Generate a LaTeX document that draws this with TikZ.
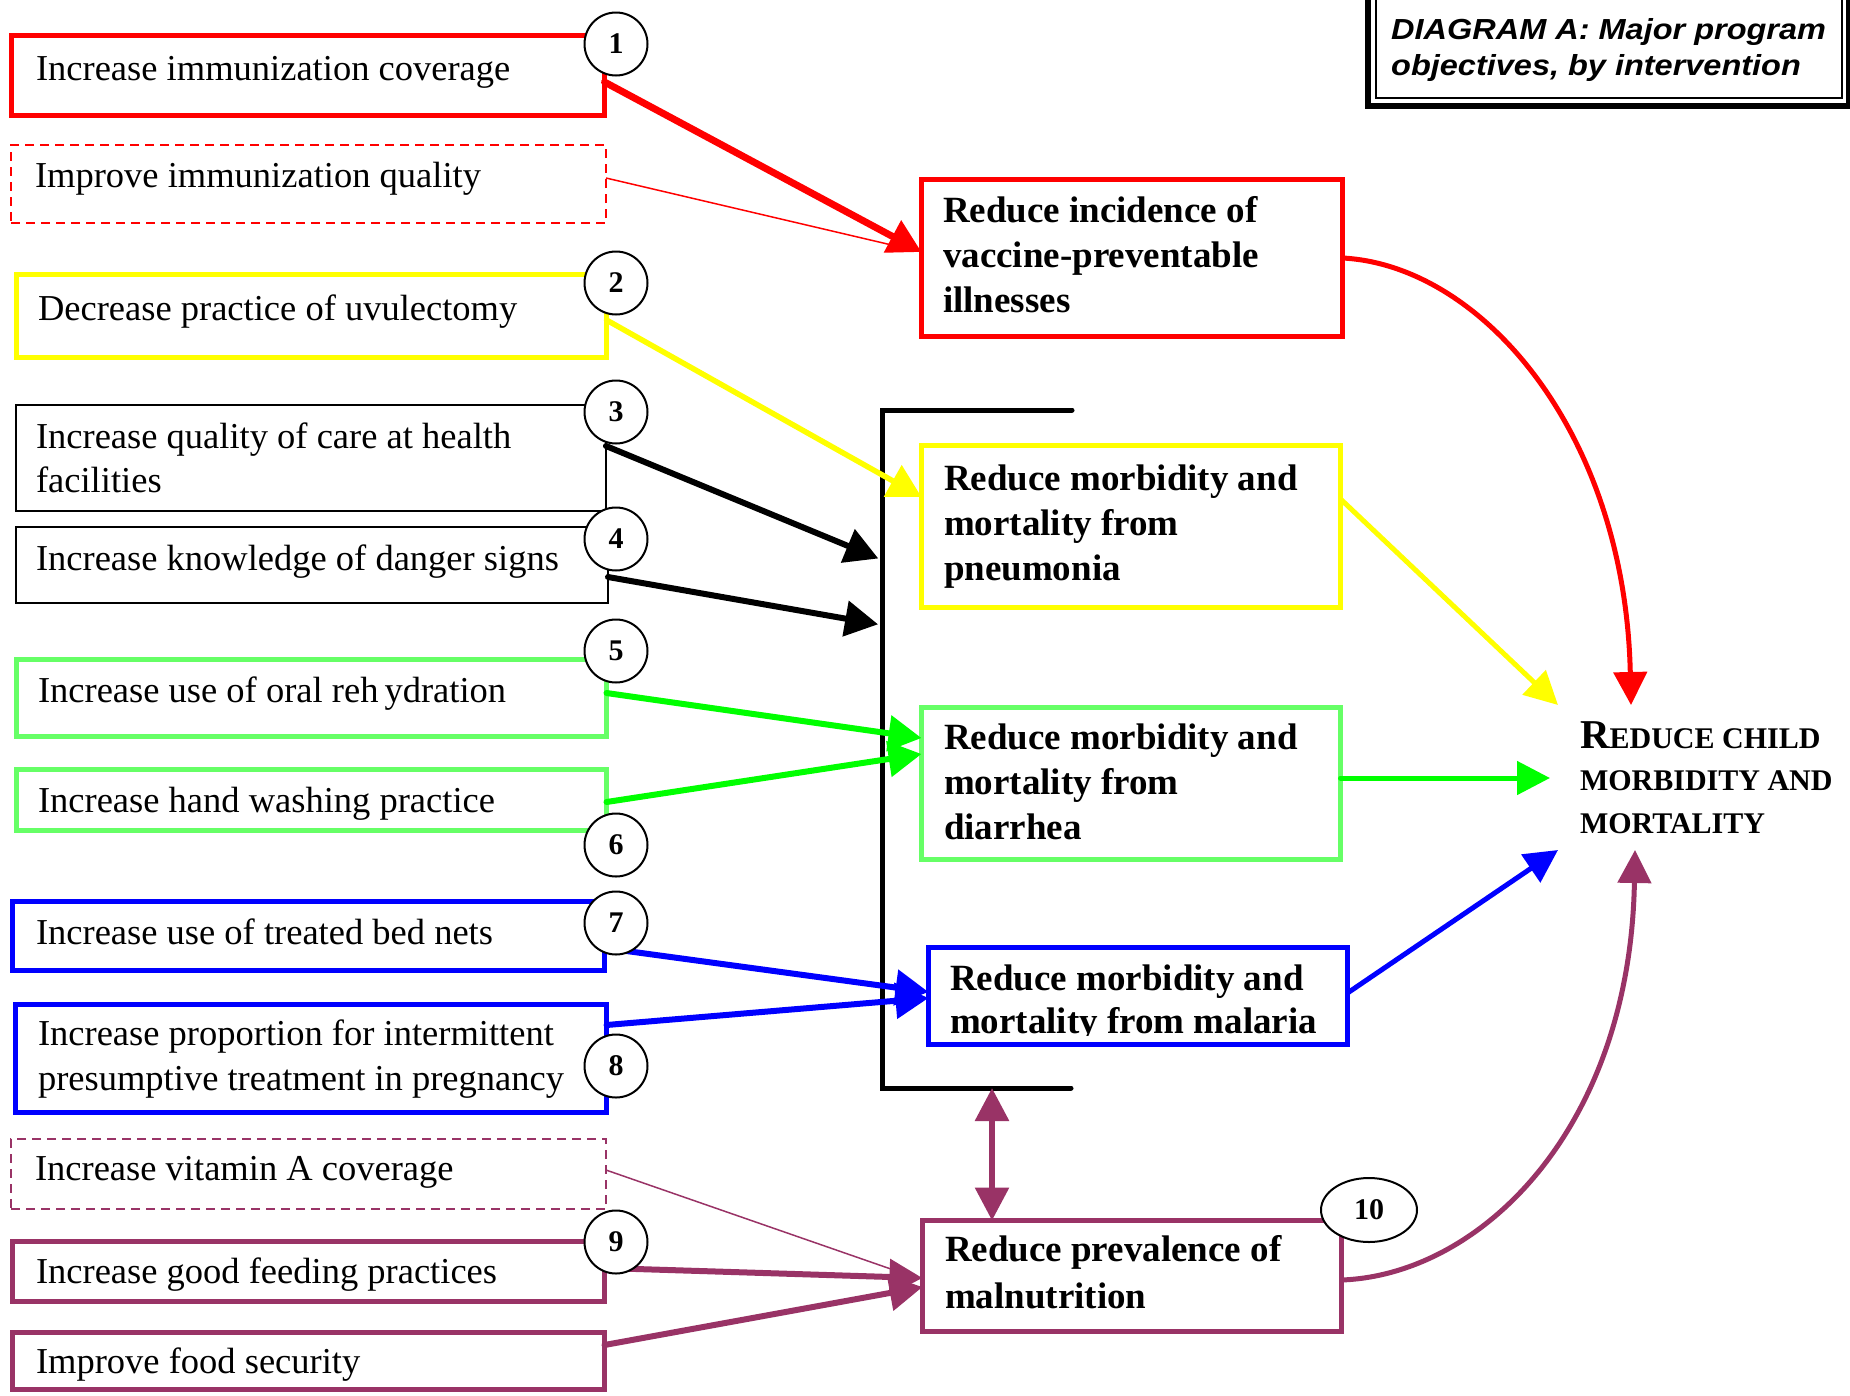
\documentclass[tikz,border=0pt]{standalone}
\usepackage{fontspec}
\setmainfont{Liberation Serif}
\newfontfamily\titlefont[FakeStretch=1.12]{Liberation Sans}
\usetikzlibrary{arrows.meta,shapes.geometric}

\definecolor{objred}{RGB}{255,0,0}
\definecolor{objyellow}{RGB}{255,255,0}
\definecolor{objgreen}{RGB}{102,255,102}
\definecolor{arrgreen}{RGB}{0,255,0}
\definecolor{objblue}{RGB}{0,0,255}
\definecolor{objplum}{RGB}{153,51,102}

\begin{document}
\begin{tikzpicture}[x=1pt,y=-1pt,line join=miter,
  box/.style={draw, rectangle, inner sep=0pt, outer sep=0pt, anchor=north west, fill=white},
  thickbox/.style={box, line width=5pt},
  thinbox/.style={box, line width=2pt},
  dashbox/.style={box, line width=2pt, dash pattern=on 9pt off 6pt},
  % multi-line labels are placed by the baseline of their last line
  lbl/.style={inner sep=0pt, outer sep=0pt, anchor=base west, align=left,
    font=\fontsize{36.5}{45}\selectfont},
  blbl/.style={lbl, font=\fontsize{37}{45}\selectfont\bfseries},
  num/.style={circle, draw, line width=2pt, fill=white, minimum size=63pt,
    inner sep=0pt, font=\fontsize{30}{30}\selectfont\bfseries},
  link/.style={line width=6pt, line cap=round, -{Triangle[length=33pt,width=35pt]}},
  golink/.style={line width=5pt, line cap=round, -{Triangle[length=33pt,width=33pt]}},
  feed/.style={line width=1.5pt, shorten >=18pt},
]
\path[use as bounding box] (0,0) rectangle (1850,1395);
\clip (0,0) rectangle (1850,1395);

% ---- title frame ----
\draw[line width=6.5pt] (1368,-30) rectangle (1849,106);
\draw[line width=2pt] (1376,-30) rectangle (1842,97.5);
\node[inner sep=0pt, anchor=base west, align=left,
  font=\titlefont\bfseries\itshape\fontsize{29}{36}\selectfont] (title) at (1391,75)
  {DIAGRAM A: Major program\\objectives, by intervention};

% ---- interventions (left column) ----
\node[thickbox, draw=objred, minimum width=593pt, minimum height=80pt] (b1) at (11.5,35.5) {};
\node[lbl] (l1) at (36,80) {Increase immunization coverage};

\node[dashbox, draw=objred, minimum width=595pt, minimum height=78pt] (bq) at (11,145) {};
\node[lbl] (lq) at (35,187) {Improve immunization quality};

\node[thickbox, draw=objyellow, minimum width=590pt, minimum height=83pt] (b2) at (16.5,274.5) {};
\node[lbl] (l2) at (38,320) {Decrease practice of uvulectomy};

\node[thinbox, minimum width=590pt, minimum height=106pt] (b3) at (16,405) {};
\node[lbl, font=\fontsize{36.5}{44}\selectfont] (l3) at (36,492) {Increase quality of care at health\\facilities};

\node[thinbox, minimum width=592pt, minimum height=76pt] (b4) at (16,527) {};
\node[lbl] (l4) at (36,570) {Increase knowledge of danger signs};

\node[thickbox, draw=objgreen, minimum width=590pt, minimum height=77pt] (b5) at (16.5,659.5) {};
\node[lbl] (l5) at (38,702) {Increase use of oral reh\,ydration};

\node[thickbox, draw=objgreen, minimum width=590pt, minimum height=61pt] (b6) at (16.5,769.5) {};
\node[lbl] (l6) at (38,812) {Increase hand washing practice};

\node[thickbox, draw=objblue, minimum width=592pt, minimum height=69pt] (b7) at (12.5,901.5) {};
\node[lbl] (l7) at (36,944) {Increase use of treated bed nets};

\node[thickbox, draw=objblue, minimum width=591pt, minimum height=108pt] (b8) at (15.5,1004.5) {};
\node[lbl] (l8) at (38,1090) {Increase proportion for intermittent\\presumptive treatment in pregnancy};

\node[dashbox, draw=objplum, minimum width=595pt, minimum height=70pt] (bv) at (11,1139) {};
\node[lbl] (lv) at (35,1180) {Increase vitamin A coverage};

\node[thickbox, draw=objplum, minimum width=592pt, minimum height=60pt] (b9) at (12.5,1241.5) {};
\node[lbl] (l9) at (36,1283) {Increase good feeding practices};

\node[thickbox, draw=objplum, minimum width=592pt, minimum height=57pt] (b10) at (12.5,1332.5) {};
\node[lbl] (l10) at (36,1373) {Improve food security};

% ---- intermediate outcomes (middle column) ----
\node[thickbox, draw=objred, minimum width=421pt, minimum height=157pt] (tr) at (921.5,179.5) {};
\node[blbl] (lr) at (943,312) {Reduce incidence of\\vaccine-preventable\\illnesses};

\node[thickbox, draw=objyellow, minimum width=419pt, minimum height=162pt] (ty) at (921.5,445.5) {};
\node[blbl] (ly) at (944,580) {Reduce morbidity and\\mortality from\\pneumonia};

\node[thickbox, draw=objgreen, minimum width=419pt, minimum height=152pt] (tg) at (921.5,707.5) {};
\node[blbl] (lg) at (944,839) {Reduce morbidity and\\mortality from\\diarrhea};

\node[thickbox, draw=objblue, minimum width=419pt, minimum height=97pt] (tb) at (928.5,947.5) {};
\begin{scope}
  \clip (930,949) rectangle (1346,1035);
  \node[blbl, font=\fontsize{37}{43}\selectfont\bfseries] (lb) at (950,1033) {Reduce morbidity and\\mortality from malaria};
\end{scope}

\node[thickbox, draw=objplum, minimum width=419pt, minimum height=111pt] (tp) at (922.5,1220.5) {};
\node[blbl, font=\fontsize{37}{47}\selectfont\bfseries] (lp) at (945,1308) {Reduce prevalence of\\malnutrition};

% ---- overall goal ----
\node[inner sep=0pt, outer sep=0pt, anchor=base west, align=left,
  font=\fontsize{30}{42.5}\selectfont\bfseries] (goal) at (1580,833)
  {{\fontsize{41}{42.5}\selectfont R}EDUCE CHILD\\MORBIDITY AND\\MORTALITY};
\coordinate (gRed) at (1631,705);
\coordinate (gYel) at (1558,705);
\coordinate (gGrn) at (1550,778);
\coordinate (gBlu) at (1558,850);
\coordinate (gPlm) at (1635,850);

% ---- bracket grouping the disease outcomes ----
\coordinate (brTop) at (882,410);
\coordinate (brBot) at (882,1088);
\coordinate (dm) at (992,1088);
\draw[line width=5pt, line cap=round] (1072,410) -- (brTop) -- (brBot) -- (1071,1088);

% ---- links from interventions ----
\draw[feed, objred] (bq.east |- 0,178) -- (tr.west |- 0,252);
\draw[link, objred, line width=7pt] (b1.east |- 0,82) -- (tr.west |- 0,252);
\draw[link, objyellow, line width=5.5pt] (b2.east |- 0,320) -- (ty.west |- 0,497);
\draw[link, shorten >=4pt] (b3.east |- 0,446) -- (brTop |- 0,560);
\draw[link, shorten >=4pt] (b4.east |- 0,577) -- (brTop |- 0,625);
\draw[link, arrgreen] (b5.east |- 0,693) -- (tg.west |- 0,738);
\draw[link, arrgreen] (b6.east |- 0,802) -- (tg.west |- 0,754);
\draw[link, objblue] (b7.east |- 0,948) -- (tb.west |- 0,992);
\draw[link, objblue] (b8.east |- 0,1025) -- (tb.west |- 0,998);
\draw[feed, objplum] (bv.east |- 0,1170) -- (tp.west |- 0,1280);
\draw[link, objplum] (b9.east |- 0,1268) -- (tp.west |- 0,1278);
\draw[link, objplum] (b10.east |- 0,1345) -- (tp.west |- 0,1287);
\draw[link, objplum, {Triangle[length=33pt,width=33pt]}-{Triangle[length=33pt,width=33pt]}]
  (dm) -- (tp.north -| dm);

% ---- links to the overall goal ----
\draw[golink, objred] (tr.east |- 0,258) .. controls (1480,265) and (1625,430) .. (gRed);
\draw[golink, objyellow] (ty.east |- 0,499) -- (gYel);
\draw[golink, arrgreen] (tg.east |- 0,778) -- (gGrn);
\draw[golink, objblue] (tb.east |- 0,993) -- (gBlu);
\draw[golink, objplum] (tp.east |- 0,1280) .. controls (1480,1275) and (1630,1130) .. (gPlm);

% ---- numbered markers ----
\node[num] (n1) at (616,44) {1};
\node[num] (n2) at (616,283) {2};
\node[num] (n3) at (616,412) {3};
\node[num] (n4) at (616,539) {4};
\node[num] (n5) at (616,651) {5};
\node[num] (n6) at (616,845) {6};
\node[num] (n7) at (616,923) {7};
\node[num] (n8) at (616,1066) {8};
\node[num] (n9) at (616,1242) {9};
\node[num, ellipse, minimum width=96pt, minimum height=64pt] (n10) at (1369,1210) {10};
\end{tikzpicture}
\end{document}
